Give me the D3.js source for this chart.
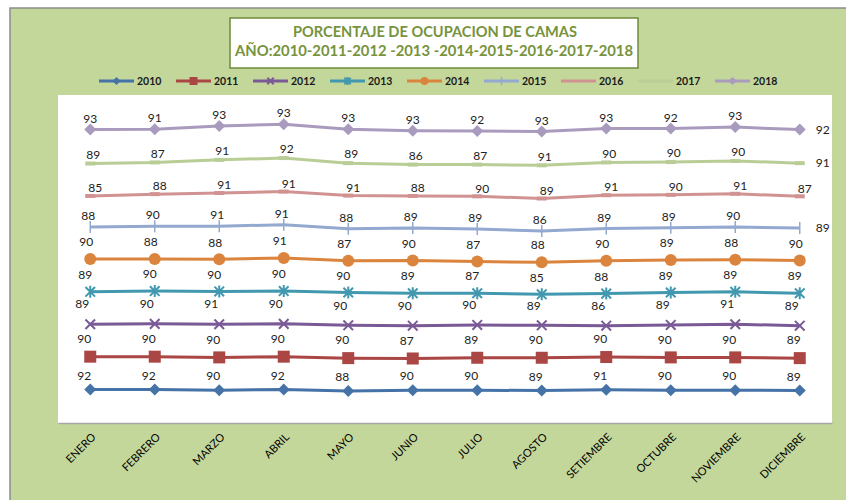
<!DOCTYPE html>
<html>
<head>
<meta charset="utf-8">
<script src="https://cdn.jsdelivr.net/npm/d3@7"></script>
<style>
  body { margin: 0; background: #fff; }
  text { font-family: Lato, "Open Sans", sans-serif; }
</style>
</head>
<body>
<svg id="chart" width="846" height="500"></svg>
<script>
// Months and years
var meses = ['ENERO','FEBRERO','MARZO','ABRIL','MAYO','JUNIO','JULIO','AGOSTO','SETIEMBRE','OCTUBRE','NOVIEMBRE','DICIEMBRE'];
var anios = ['2010','2011','2012','2013','2014','2015','2016','2017','2018'];

// Occupancy per year
var v2010 = [92,92,90,92,88,90,90,89,91,90,90,89];
var v2011 = [90,90,90,90,90,87,89,90,90,90,90,89];
var v2012 = [89,90,91,90,90,90,90,89,86,89,91,89];
var v2013 = [89,90,90,90,90,89,87,85,88,89,89,89];
var v2014 = [90,88,88,91,87,90,87,88,90,89,88,90];
var v2015 = [88,90,91,91,88,89,89,86,89,89,90,89];
var v2016 = [85,88,91,91,91,88,90,89,91,90,91,87];
var v2017 = [89,87,91,92,89,86,87,91,90,90,90,91];
var v2018 = [93,91,93,93,93,93,92,93,93,92,93,92];

var yTicks = [0, 900];

// styles
var colores = ['#4572A7','#AA4643','#7A5A96','#4198AF','#DB843D','#93A9CF','#D19392','#B9CD96','#A99BBD'];
var marcas = ['diamond','square','x','star','circle','plus','dash','dash','diamond'];
var labelDx = [-6,-6,-8,-5,-4,-2,5,3,0];
var labelDy = [-14,-18,-20,-17,-17,-11,-8,-9,-11];
var labelRight = ['2015','2017','2018'];

var valores = [v2010,v2011,v2012,v2013,v2014,v2015,v2016,v2017,v2018];

// table for d3.stack
var filas = meses.map(function(m, i) {
  var r = {mes: m};
  anios.forEach(function(a, j) { r[a] = valores[j][i]; });
  return r;
});
var capas = d3.stack().keys(anios)(filas);

var svg = d3.select('#chart');

// background
svg.append('rect').attr('x', 10).attr('y', 8).attr('width', 840).attr('height', 500)
   .attr('fill', '#C4D79B').attr('stroke', '#8c8c8c').attr('stroke-width', 1.5);

// plot area
var pLeft = 58, pRight = 832, pTop = 95, pBottom = 423;
svg.append('rect').attr('x', pLeft).attr('y', pTop).attr('width', pRight - pLeft).attr('height', pBottom - pTop)
   .attr('fill', '#fff');

var x = d3.scalePoint().domain(meses).range([pLeft, pRight]).padding(0.5);
var y = d3.scaleLinear().domain(d3.extent(yTicks)).range([pBottom, pTop]);

// title box
svg.append('rect').attr('x', 230).attr('y', 18).attr('width', 408).attr('height', 50)
   .attr('fill', '#fff').attr('stroke', '#6E8B3D').attr('stroke-width', 1.5);
svg.append('text').attr('x', 435).attr('y', 37).attr('text-anchor', 'middle')
   .attr('font-size', 15).attr('font-weight', 'bold').attr('fill', '#77933C')
   .attr('textLength', 284).attr('lengthAdjust', 'spacingAndGlyphs')
   .text('PORCENTAJE DE OCUPACION DE CAMAS');
svg.append('text').attr('x', 434).attr('y', 56).attr('text-anchor', 'middle')
   .attr('font-size', 15).attr('font-weight', 'bold').attr('fill', '#77933C')
   .attr('textLength', 398).attr('lengthAdjust', 'spacingAndGlyphs')
   .text('AÑO:2010-2011-2012 -2013 -2014-2015-2016-2017-2018');

// marker drawing
function marker(g, tipo, color, s) {
  if (tipo === 'diamond') {
    g.append('path').attr('d', 'M0,' + (-s) + 'L' + s + ',0L0,' + s + 'L' + (-s) + ',0Z').attr('fill', color);
  } else if (tipo === 'square') {
    g.append('rect').attr('x', -s).attr('y', -s).attr('width', 2 * s).attr('height', 2 * s).attr('fill', color);
  } else if (tipo === 'circle') {
    g.append('circle').attr('r', s).attr('fill', color);
  } else if (tipo === 'x' || tipo === 'star') {
    var k = s * 0.8;
    g.append('path').attr('d', 'M' + (-k) + ',' + (-k) + 'L' + k + ',' + k + 'M' + (-k) + ',' + k + 'L' + k + ',' + (-k)
      + (tipo === 'star' ? 'M0,' + (-s) + 'L0,' + s : ''))
     .attr('stroke', color).attr('stroke-width', 2).attr('fill', 'none');
  } else if (tipo === 'plus') {
    g.append('path').attr('d', 'M0,' + (-s) + 'L0,' + s).attr('stroke', color).attr('stroke-width', 1.5);
  } else if (tipo === 'dash') {
    g.append('rect').attr('x', -s).attr('y', -2).attr('width', 2 * s).attr('height', 4).attr('fill', color);
  }
}

// legend
var leg = svg.append('g').selectAll('g').data(anios).enter().append('g')
  .attr('transform', function(d, i) { return 'translate(' + (99 + i * 77) + ',81)'; });
leg.append('line').attr('x1', 0).attr('x2', 35).attr('stroke-width', 3)
   .attr('stroke', function(d, i) { return colores[i]; });
leg.each(function(d, i) {
  if (marcas[i] !== 'dash') {
    var m = d3.select(this).append('g').attr('transform', 'translate(17.5,0)');
    marker(m, marcas[i], colores[i], 4);
  }
});
leg.append('text').attr('x', 38).attr('y', 4).attr('font-size', 10.5).attr('font-weight', 'bold')
   .attr('fill', '#1a1a1a').text(function(d) { return d; });

// lines
var linea = d3.line()
  .x(function(d) { return x(d.data.mes); })
  .y(function(d) { return y(d[1]); });

var series = svg.append('g').selectAll('g').data(capas).enter().append('g');

series.append('path')
  .attr('d', function(d) { return linea(d); })
  .attr('fill', 'none').attr('stroke-width', 3)
  .attr('stroke', function(d) { return colores[d.index]; });

series.each(function(s) {
  var g = d3.select(this);
  s.forEach(function(p) {
    var m = g.append('g').attr('transform', 'translate(' + x(p.data.mes) + ',' + y(p[1]) + ')');
    marker(m, marcas[s.index], colores[s.index], marcas[s.index] === 'dash' ? 5 : 6);
  });
});

// data labels
series.each(function(s) {
  var g = d3.select(this);
  g.selectAll('text').data(s).enter().append('text')
    .attr('x', function(p, i) {
      if (i === s.length - 1 && labelRight.indexOf(s.key) >= 0) return x(p.data.mes) + 23;
      return x(p.data.mes) + labelDx[s.index];
    })
    .attr('y', function(p, i) {
      if (i === s.length - 1 && labelRight.indexOf(s.key) >= 0) return y(p[1]);
      return y(p[1]) + labelDy[s.index];
    })
    .attr('dy', '0.35em').attr('text-anchor', 'middle')
    .attr('font-size', 12).attr('fill', '#222')
    .text(function(p) { return p.data[s.key]; });
});

// category axis
var ax = svg.append('g').attr('transform', 'translate(0,' + pBottom + ')')
  .call(d3.axisBottom(x).tickSize(0).tickSizeOuter(0));
ax.select('.domain').attr('stroke', '#a6a6a6').attr('stroke-width', 1.5);
ax.selectAll('text')
  .attr('x', 0).attr('y', 0).attr('dy', '0.35em')
  .attr('transform', 'translate(3,12) rotate(-45)')
  .style('text-anchor', 'end')
  .attr('font-size', 11).attr('fill', '#000')
  .style('font-family', 'Lato, "Open Sans", sans-serif');
</script>
</body>
</html>
